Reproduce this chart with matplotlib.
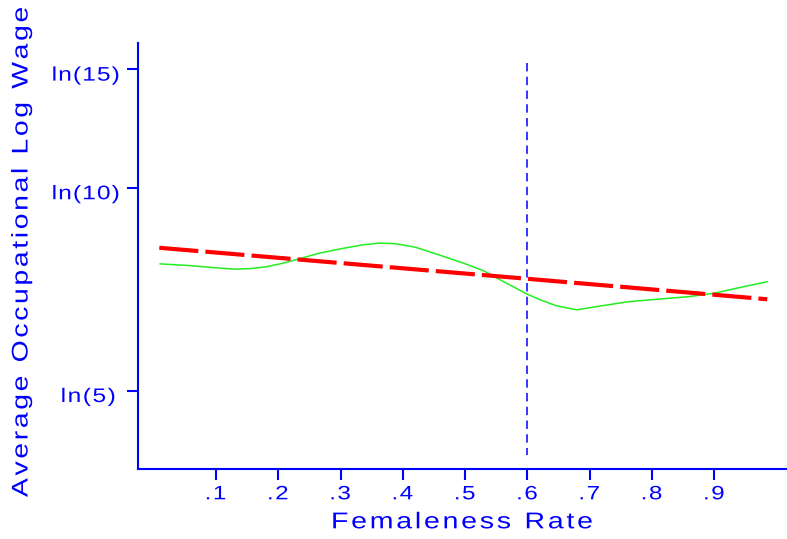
import numpy as np
import matplotlib
matplotlib.use("Agg")
import matplotlib.pyplot as plt
from matplotlib.font_manager import FontProperties
from matplotlib.textpath import TextPath, TextToPath
from matplotlib.patches import PathPatch
from matplotlib.path import Path
from matplotlib.transforms import Affine2D, IdentityTransform

# ---------------- data ----------------
green_x = [0.010, 0.059, 0.097, 0.130, 0.156, 0.181, 0.207, 0.233, 0.265, 0.304,
           0.336, 0.362, 0.388, 0.420, 0.459, 0.498, 0.530, 0.562, 0.600, 0.621,
           0.646, 0.679, 0.711, 0.763, 0.808, 0.859, 0.898, 0.943, 0.985]
green_y = [2.043, 2.037, 2.030, 2.025, 2.027, 2.033, 2.045, 2.060, 2.079, 2.096,
           2.108, 2.114, 2.112, 2.100, 2.073, 2.045, 2.019, 1.982, 1.939, 1.920,
           1.900, 1.886, 1.897, 1.914, 1.922, 1.931, 1.942, 1.963, 1.982]
red_x = [0.009, 0.600, 0.985]
red_y = [2.098, 1.992, 1.922]
vline_x = [0.6, 0.6]
vline_y = [2.731, 1.389]

xtick_vals = [0.1, 0.2, 0.3, 0.4, 0.5, 0.6, 0.7, 0.8, 0.9]
xtick_labels = ['.1', '.2', '.3', '.4', '.5', '.6', '.7', '.8', '.9']
ytick_vals = [np.log(5), np.log(10), np.log(15)]
ytick_labels = ['ln(5)', 'ln(10)', 'ln(15)']
xlabel = 'Femaleness Rate'
ylabel = 'Average Occupational Log Wage'

# ---------------- layout ----------------
W, H = 787, 539
BLUE = '#0000ff'
fig = plt.figure(figsize=(W / 100, H / 100), dpi=100)
left_px, right_px, top_px, bot_px = 137.5, 787, 43, 469
ax = fig.add_axes([left_px / W, (H - bot_px) / H, (right_px - left_px) / W, (bot_px - top_px) / H])
ax.set_xlim(-0.0260, 1.0167)
ax.set_ylim(1.3418, 2.7980)

for s in ['top', 'right']:
    ax.spines[s].set_visible(False)
for s in ['left', 'bottom']:
    ax.spines[s].set_color(BLUE)
    ax.spines[s].set_linewidth(1.5)
ax.set_xticks(xtick_vals)
ax.set_yticks(ytick_vals)
ax.set_xticklabels([])
ax.set_yticklabels([])
ax.tick_params(axis='both', direction='out', length=8, width=1.5, color=BLUE)

ax.plot(green_x, green_y, color='#22ee22', lw=1.1, solid_capstyle='round',
        solid_joinstyle='round')
ax.plot(red_x, red_y, color='#ff0000', lw=3.0, dashes=(9.4, 1.7))
ax.plot(vline_x, vline_y, color=BLUE, lw=1.1, dashes=(5.5, 3.5))

# ---------------- wide lettering via text paths ----------------
PROP = FontProperties(family='Liberation Sans')
TTP = TextToPath()
SX = 1.25  # horizontal widening of the glyphs


def cap_ratio():
    e = TextPath((0, 0), 'H', size=100, prop=PROP).get_extents()
    return e.height / 100.0


CAP = cap_ratio()


def adv(ch, size):
    p = PROP.copy()
    p.set_size(size)
    w2 = TTP.get_text_width_height_descent('||', p, ismath=False)[0]
    w3 = TTP.get_text_width_height_descent('|' + ch + '|', p, ismath=False)[0]
    return w3 - w2


def build(s, size, spacing):
    parts = []
    pos = 0.0
    for ch in s:
        a = adv(ch, size) * SX
        if ch != ' ':
            tp = TextPath((0, 0), ch, size=size, prop=PROP)
            parts.append(tp.transformed(Affine2D().scale(SX, 1).translate(pos, 0)))
        pos += a + spacing
    return Path.make_compound_path(*parts), pos - spacing


def add_path(path, tr):
    patch = PathPatch(path.transformed(tr), facecolor=BLUE, edgecolor='none',
                      transform=IdentityTransform())
    fig.add_artist(patch)


def fitted(s, cap_px, ink_a, ink_b, base, vertical=False):
    """Letter-spaced text whose ink spans ink_a..ink_b along reading direction."""
    size = cap_px / CAP
    p0, _ = build(s, size, 0.0)
    w0 = p0.get_extents().width
    spacing = (abs(ink_b - ink_a) - w0) / max(len(s) - 1, 1)
    p, _ = build(s, size, spacing)
    e = p.get_extents()
    if not vertical:
        add_path(p, Affine2D().translate(ink_a - e.x0, base))
    else:
        add_path(p, Affine2D().rotate_deg(90).translate(base, ink_a - e.x0))


def centered(s, cap_px, center, base, spacing):
    size = cap_px / CAP
    p, total = build(s, size, spacing)
    add_path(p, Affine2D().translate(center - total / 2.0, base))


# x tick labels (centred on the tick by advance width)
for v, lab in zip(xtick_vals, xtick_labels):
    px, _ = ax.transData.transform((v, 2.0))
    centered(lab, 13.3, px - 0.5, H - 499.3, 1.5)

# y tick labels
ytick_ink = {'ln(5)': (62.3, 114.3), 'ln(10)': (53.3, 118.3), 'ln(15)': (53.3, 118.3)}
for v, lab in zip(ytick_vals, ytick_labels):
    _, py = ax.transData.transform((0.0, v))
    a, b = ytick_ink[lab]
    fitted(lab, 13.5, a, b, py - 11.3)

# axis titles
fitted(xlabel, 15.7, 333.3, 591.7, H - 528.3)
fitted(ylabel, 15.6, H - 497.0, H - 8.0, 27.5, vertical=True)

fig.savefig('out.png', dpi=100)
